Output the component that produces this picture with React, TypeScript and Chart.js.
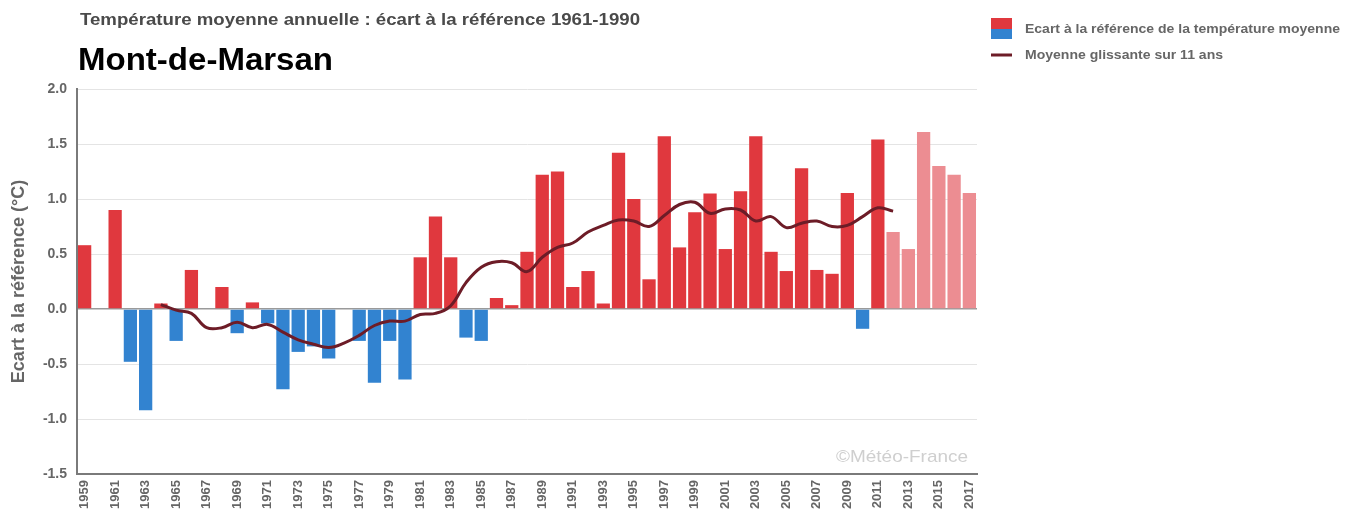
import React, { useEffect, useRef } from "react";
import { Chart, registerables } from "chart.js";

Chart.register(...registerables);

const years: string[] = [
  "1959", "1960", "1961", "1962", "1963", "1964", "1965", "1966", "1967", "1968",
  "1969", "1970", "1971", "1972", "1973", "1974", "1975", "1976", "1977", "1978",
  "1979", "1980", "1981", "1982", "1983", "1984", "1985", "1986", "1987", "1988",
  "1989", "1990", "1991", "1992", "1993", "1994", "1995", "1996", "1997", "1998",
  "1999", "2000", "2001", "2002", "2003", "2004", "2005", "2006", "2007", "2008",
  "2009", "2010", "2011", "2012", "2013", "2014", "2015", "2016", "2017",
];

// Annual mean temperature anomaly vs 1961-1990 (°C)
const anomalies: (number | null)[] = [
  0.58, null, 0.9, -0.48, -0.92, 0.05, -0.29, 0.355, null, 0.2,
  -0.22, 0.06, -0.13, -0.73, -0.39, -0.34, -0.45, null, -0.29, -0.67,
  -0.29, -0.64, 0.47, 0.84, 0.47, -0.26, -0.29, 0.1, 0.035, 0.52,
  1.22, 1.25, 0.2, 0.345, 0.05, 1.42, 1.0, 0.27, 1.57, 0.56,
  0.88, 1.05, 0.545, 1.07, 1.57, 0.52, 0.345, 1.28, 0.355, 0.32,
  1.055, -0.18, 1.54, 0.7, 0.545, 1.61, 1.3, 1.22, 1.055,
];

// 11-year moving average
const movingAverage: (number | null)[] = [
  null, null, null, null, null, 0.04, -0.01, -0.04, -0.17, -0.17,
  -0.12, -0.17, -0.14, -0.21, -0.28, -0.32, -0.35, -0.31, -0.24, -0.15,
  -0.11, -0.11, -0.05, -0.04, 0.03, 0.24, 0.38, 0.43, 0.42, 0.34,
  0.47, 0.56, 0.6, 0.7, 0.76, 0.81, 0.8, 0.75, 0.85, 0.95,
  0.97, 0.87, 0.91, 0.9, 0.8, 0.84, 0.74, 0.78, 0.8, 0.75,
  0.76, 0.84, 0.92, 0.89, null, null, null, null, null,
];

// Years from which values are provisional (lighter colour)
const provisionalFrom = "2012";

const yTicks: number[] = [-1.5, -1.0, -0.5, 0.0, 0.5, 1.0, 1.5, 2.0];

const RED = "#e0383e";
const BLUE = "#3283d0";
const LIGHT = "#ec8d92";
const LINE = "#6d1c27";
const FONT = "'Liberation Sans', Arial, sans-serif";

function stretchedText(ctx: CanvasRenderingContext2D, text: string, x: number, y: number, width: number) {
  const w = ctx.measureText(text).width;
  const k = w > 0 ? width / w : 1;
  ctx.save();
  ctx.translate(x, y);
  ctx.scale(k, 1);
  ctx.fillText(text, 0, 0);
  ctx.restore();
}

const decorPlugin = {
  id: "decor",
  afterDraw(chart: any) {
    const ctx = chart.ctx as CanvasRenderingContext2D;
    ctx.save();
    ctx.textBaseline = "middle";
    ctx.textAlign = "left";
    // titles
    ctx.fillStyle = "#4a4a4a";
    ctx.font = `bold 16px ${FONT}`;
    stretchedText(ctx, "Température moyenne annuelle : écart à la référence 1961-1990", 80, 21, 560);
    ctx.fillStyle = "#000";
    ctx.font = `bold 32px ${FONT}`;
    stretchedText(ctx, "Mont-de-Marsan", 78, 61, 255);

    // legend
    ctx.fillStyle = RED;
    ctx.fillRect(991, 18, 21, 11);
    ctx.fillStyle = BLUE;
    ctx.fillRect(991, 29, 21, 10);
    ctx.fillStyle = "#666";
    ctx.font = `bold 12px ${FONT}`;
    stretchedText(ctx, "Ecart à la référence de la température moyenne", 1025, 30, 315);
    ctx.strokeStyle = LINE;
    ctx.lineWidth = 3;
    ctx.beginPath();
    ctx.moveTo(991, 55);
    ctx.lineTo(1012, 55);
    ctx.stroke();
    stretchedText(ctx, "Moyenne glissante sur 11 ans", 1025, 56, 198);

    // watermark
    ctx.fillStyle = "#cfcfcf";
    ctx.font = `17px ${FONT}`;
    stretchedText(ctx, "©Météo-France", 836, 457, 132);
    ctx.restore();
  },
};

export default function App() {
  const canvasRef = useRef<HTMLCanvasElement | null>(null);

  useEffect(() => {
    document.body.style.margin = "0";
    const canvas = canvasRef.current;
    if (!canvas) return;
    const barColors = anomalies.map((v, i) =>
      years[i] >= provisionalFrom ? LIGHT : v !== null && v < 0 ? BLUE : RED
    );
    const chart = new Chart(canvas, {
      type: "bar",
      data: {
        labels: years,
        datasets: [
          {
            type: "line",
            label: "Moyenne glissante sur 11 ans",
            data: movingAverage,
            borderColor: LINE,
            borderWidth: 3,
            pointRadius: 0,
            tension: 0.4,
            fill: false,
            order: 0,
          } as any,
          {
            type: "bar",
            label: "Ecart à la référence de la température moyenne",
            data: anomalies,
            backgroundColor: barColors,
            barPercentage: 0.87,
            categoryPercentage: 1.0,
            order: 1,
          } as any,
        ],
      },
      options: {
        responsive: false,
        animation: false,
        devicePixelRatio: 1,
        layout: { padding: { top: 89, right: 380, left: 0, bottom: 0 } },
        plugins: {
          legend: { display: false },
          title: { display: false },
          tooltip: { enabled: false },
        },
        scales: {
          x: {
            offset: true,
            grid: { display: false, drawTicks: false },
            border: { display: true, color: "#7a7a7a", width: 2 },
            ticks: {
              autoSkip: false,
              maxRotation: 90,
              minRotation: 90,
              color: "#666",
              padding: 6,
              font: { family: FONT, size: 13, weight: "bold" },
              callback: (_v: any, i: number) => (i % 2 === 0 ? years[i] : ""),
            },
            afterFit: (s: any) => {
              s.height = 47;
            },
          },
          y: {
            min: yTicks[0],
            max: yTicks[yTicks.length - 1],
            afterBuildTicks: (s: any) => {
              s.ticks = yTicks.map((v) => ({ value: v }));
            },
            ticks: {
              color: "#666",
              padding: 10,
              font: { family: FONT, size: 14, weight: "bold" },
              callback: (v: any) => Number(v).toFixed(1),
            },
            grid: {
              drawTicks: false,
              color: (c: any) => (c.tick && c.tick.value === 0 ? "#9a9a9a" : "#e4e4e4"),
              lineWidth: (c: any) => (c.tick && c.tick.value === 0 ? 1.5 : 1),
            },
            border: { display: true, color: "#7a7a7a", width: 2 },
            title: {
              display: true,
              text: "Ecart à la référence (°C)",
              color: "#666",
              font: { family: FONT, size: 18, weight: "bold" },
              padding: { top: 8, bottom: 0 },
            },
            afterFit: (s: any) => {
              s.width = 77;
            },
          },
        },
      },
      plugins: [decorPlugin],
    });
    return () => chart.destroy();
  }, []);

  return (
    <div style={{ position: "fixed", left: 0, top: 0, width: 1357, height: 521, background: "#fff" }}>
      <canvas ref={canvasRef} width={1357} height={521} style={{ width: 1357, height: 521 }} />
    </div>
  );
}
